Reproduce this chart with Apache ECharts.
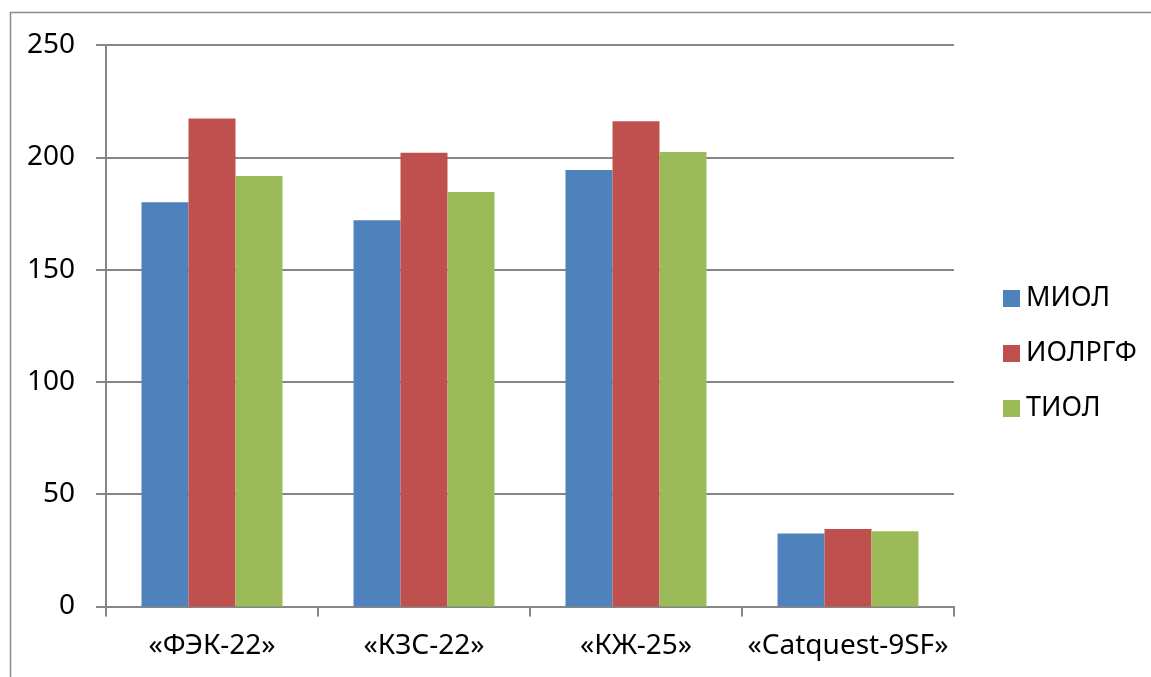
<!DOCTYPE html>
<html>
<head>
<meta charset="utf-8">
<script src="https://cdn.jsdelivr.net/npm/echarts@6/dist/echarts.min.js"></script>
<style>
  html, body { margin: 0; padding: 0; background: #fff; }
  #chart { width: 1151px; height: 677px; }
</style>
</head>
<body>
<div id="chart"></div>
<script>
// Lens categories and the three calculation formulas
const categories = ['«ФЭК-22»', '«КЗС-22»', '«КЖ-25»', '«Catquest-9SF»'];
const seriesNames = ['МИОЛ', 'ИОЛРГФ', 'ТИОЛ'];
const miol = [180, 172, 194.3, 32.5];
const iolrgf = [217.3, 202, 216, 34.5];
const tiol = [191.7, 184.6, 202.4, 33.5];
const yTicks = { min: 0, max: 250, interval: 50 };

const colors = ['#4F81BD', '#C0504D', '#9BBB59'];
const font = '"Noto Sans", "DejaVu Sans", sans-serif';
const gridGrey = '#868686';

const chart = echarts.init(document.getElementById('chart'), null, { renderer: 'canvas' });

const seriesData = [miol, iolrgf, tiol];

chart.setOption({
  animation: false,
  backgroundColor: '#fff',
  color: colors,
  graphic: [{
    type: 'rect',
    shape: { x: 10.5, y: 12.5, width: 1300, height: 800 },
    style: { fill: 'none', stroke: '#8c8c8c', lineWidth: 1.5 },
    silent: true
  }],
  grid: { left: 106, right: 197, top: 45, bottom: 70.5, containLabel: false },
  legend: {
    orient: 'vertical',
    left: 998,
    top: 280,
    icon: 'rect',
    itemWidth: 17,
    itemHeight: 17,
    itemGap: 28,
    textStyle: { fontFamily: font, fontSize: 27, color: '#000', lineHeight: 27, padding: [0, 0, 0, 1] },
    data: seriesNames
  },
  xAxis: {
    type: 'category',
    data: categories,
    boundaryGap: true,
    axisLine: { lineStyle: { color: gridGrey, width: 2 } },
    axisTick: { show: true, length: 10, lineStyle: { color: gridGrey, width: 2 } },
    axisLabel: { fontFamily: font, fontSize: 28, color: '#000', margin: 26, interval: 0 }
  },
  yAxis: {
    type: 'value',
    min: yTicks.min,
    max: yTicks.max,
    interval: yTicks.interval,
    axisLine: { show: true, lineStyle: { color: gridGrey, width: 2 } },
    axisTick: { show: true, length: 10, lineStyle: { color: gridGrey, width: 2 } },
    splitLine: { show: true, lineStyle: { color: gridGrey, width: 2 } },
    axisLabel: { fontFamily: font, fontSize: 28, color: '#000', margin: 31 }
  },
  series: seriesNames.map((name, i) => ({
    name,
    type: 'bar',
    data: seriesData[i],
    barGap: '0%',
    barCategoryGap: '33.5%',
    itemStyle: { color: colors[i] }
  }))
});
</script>
</body>
</html>
